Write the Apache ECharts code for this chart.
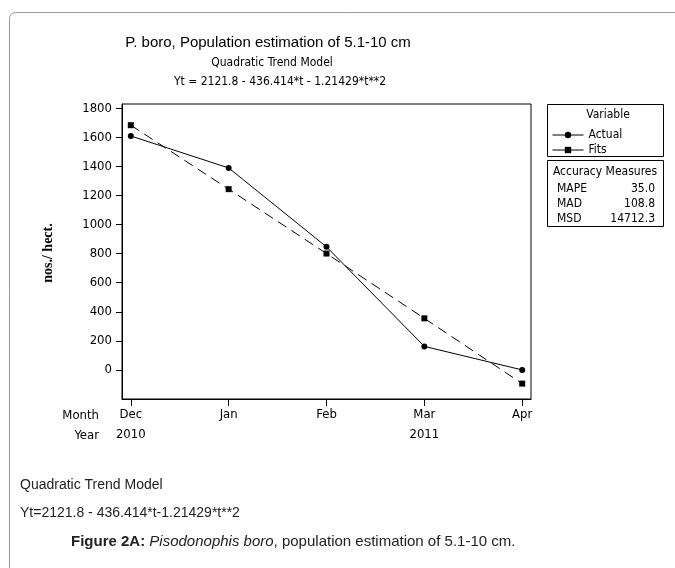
<!DOCTYPE html>
<html lang="en">
<head>
    <meta charset="UTF-8">
    <title>P. boro, Population estimation</title>
    <script src="https://cdn.jsdelivr.net/npm/echarts@6/dist/echarts.min.js"></script>
    <style>
        html, body { margin: 0; padding: 0; background: #fff; }
        #chart { width: 675px; height: 568px; }
    </style>
</head>
<body>
<div id="chart"></div>
<script>
// data
var months = ['Dec', 'Jan', 'Feb', 'Mar', 'Apr'];
var years = ['2010', '', '', '2011', ''];
var actual = [1610, 1390, 847, 162, 0];
var fits = [1684, 1244, 801, 355, -94];
var yTicks = [0, 200, 400, 600, 800, 1000, 1200, 1400, 1600, 1800];
var accNames = ['MAPE', 'MAD', 'MSD'];
var accValues = ['35.0', '108.8', '14712.3'];

var tickFont = '"DejaVu Sans Condensed", "DejaVu Sans", sans-serif';

function pairs(arr) {
  return arr.map(function (v, i) { return [i, v]; });
}

var chart = echarts.init(document.getElementById('chart'));

var graphics = [
  // outer frame with rounded corner
  { type: 'rect', shape: { x: 9.5, y: 12.5, width: 720, height: 620, r: 6 },
    style: { fill: 'none', stroke: '#9a9a9a', lineWidth: 1 }, silent: true },
  // titles
  { type: 'text', x: 268, y: 43, style: { text: 'P. boro, Population estimation of 5.1-10 cm',
      font: '15px "Liberation Sans"', fill: '#000', align: 'center', verticalAlign: 'middle' } },
  { type: 'text', x: 272, y: 63, style: { text: 'Quadratic Trend Model',
      font: '12px ' + tickFont, fill: '#000', align: 'center', verticalAlign: 'middle' } },
  { type: 'text', x: 280, y: 82, style: { text: 'Yt = 2121.8 - 436.414*t - 1.21429*t**2',
      font: '12px ' + tickFont, fill: '#000', align: 'center', verticalAlign: 'middle' } },
  // y axis name
  { type: 'text', x: 48, y: 253, rotation: Math.PI / 2, style: { text: 'nos./ hect.',
      font: 'bold 14px "Liberation Serif"', fill: '#000', align: 'center', verticalAlign: 'middle' } },
  // x axis row names
  { type: 'text', x: 99, y: 416, style: { text: 'Month', font: '13px ' + tickFont, fill: '#000',
      align: 'right', verticalAlign: 'middle' } },
  { type: 'text', x: 99, y: 436, style: { text: 'Year', font: '13px ' + tickFont, fill: '#000',
      align: 'right', verticalAlign: 'middle' } },
  // legend box
  { type: 'rect', shape: { x: 547.5, y: 104.5, width: 116, height: 52 },
    style: { fill: 'none', stroke: '#000', lineWidth: 1 } },
  { type: 'text', x: 608, y: 115, style: { text: 'Variable', font: '12px ' + tickFont, fill: '#000',
      align: 'center', verticalAlign: 'middle' } },
  // accuracy box
  { type: 'rect', shape: { x: 547.5, y: 160.5, width: 116, height: 66 },
    style: { fill: 'none', stroke: '#000', lineWidth: 1 } },
  { type: 'text', x: 605, y: 172, style: { text: 'Accuracy Measures', font: '12px ' + tickFont, fill: '#000',
      align: 'center', verticalAlign: 'middle' } },
  // bottom notes
  { type: 'text', x: 20, y: 485, style: { text: 'Quadratic Trend Model', font: '14px "Liberation Sans"',
      fill: '#222', verticalAlign: 'middle' } },
  { type: 'text', x: 20, y: 513, style: { text: 'Yt=2121.8 - 436.414*t-1.21429*t**2', font: '14px "Liberation Sans"',
      fill: '#222', verticalAlign: 'middle' } },
  { type: 'text', x: 71, y: 542, style: {
      text: '{b|Figure 2A:} {i|Pisodonophis boro}, population estimation of 5.1-10 cm.',
      font: '15px "Liberation Sans"', fill: '#222', verticalAlign: 'middle',
      rich: {
        b: { fontWeight: 'bold', fontSize: 15, fontFamily: 'Liberation Sans', fill: '#222' },
        i: { fontStyle: 'italic', fontSize: 15, fontFamily: 'Liberation Sans', fill: '#222' }
      } } }
];

accNames.forEach(function (name, i) {
  graphics.push({ type: 'text', x: 557, y: 189 + i * 15, style: { text: name, font: '12px ' + tickFont,
    fill: '#000', verticalAlign: 'middle' } });
  graphics.push({ type: 'text', x: 655, y: 189 + i * 15, style: { text: accValues[i], font: '12px ' + tickFont,
    fill: '#000', align: 'right', verticalAlign: 'middle' } });
});

var option = {
  animation: false,
  backgroundColor: '#fff',
  grid: {
    left: 122, top: 104, right: 144, bottom: 169,
    show: true, borderColor: '#000', borderWidth: 1
  },
  legend: {
    orient: 'vertical',
    left: 552, top: 128,
    padding: 0,
    itemWidth: 31, itemHeight: 8, itemGap: 1,
    data: ['Actual', 'Fits'],
    lineStyle: { type: 'solid', width: 1 },
    textStyle: { fontFamily: tickFont, fontSize: 12, color: '#000', lineHeight: 14 }
  },
  xAxis: {
    type: 'value',
    min: -0.09, max: 4.09,
    splitLine: { show: false },
    axisLine: { show: true, onZero: false, lineStyle: { color: '#000' } },
    axisTick: { show: true, length: 7, customValues: [0, 1, 2, 3, 4], lineStyle: { color: '#000' } },
    axisLabel: {
      customValues: [0, 1, 2, 3, 4],
      margin: 6,
      lineHeight: 20,
      fontFamily: tickFont, fontSize: 13, color: '#000',
      formatter: function (v) { return months[v] + '\n' + (years[v] || ' '); }
    }
  },
  yAxis: {
    type: 'value',
    min: -200, max: 1830,
    splitLine: { show: false },
    axisLine: { show: true, onZero: false, lineStyle: { color: '#000' } },
    axisTick: { show: true, length: 6, customValues: yTicks, lineStyle: { color: '#000' } },
    axisLabel: {
      customValues: yTicks, margin: 10, fontFamily: tickFont, fontSize: 13, color: '#000',
      formatter: function (v) { return String(v); }
    }
  },
  series: [
    {
      name: 'Actual', type: 'line', data: pairs(actual),
      symbol: 'circle', symbolSize: 6,
      itemStyle: { color: '#000' },
      lineStyle: { color: '#000', width: 1, type: 'solid' }
    },
    {
      name: 'Fits', type: 'line', data: pairs(fits),
      symbol: 'rect', symbolSize: 6,
      itemStyle: { color: '#000' },
      lineStyle: { color: '#000', width: 1, type: [10, 6] }
    }
  ],
  graphic: graphics
};

chart.setOption(option);
</script>
</body>
</html>
